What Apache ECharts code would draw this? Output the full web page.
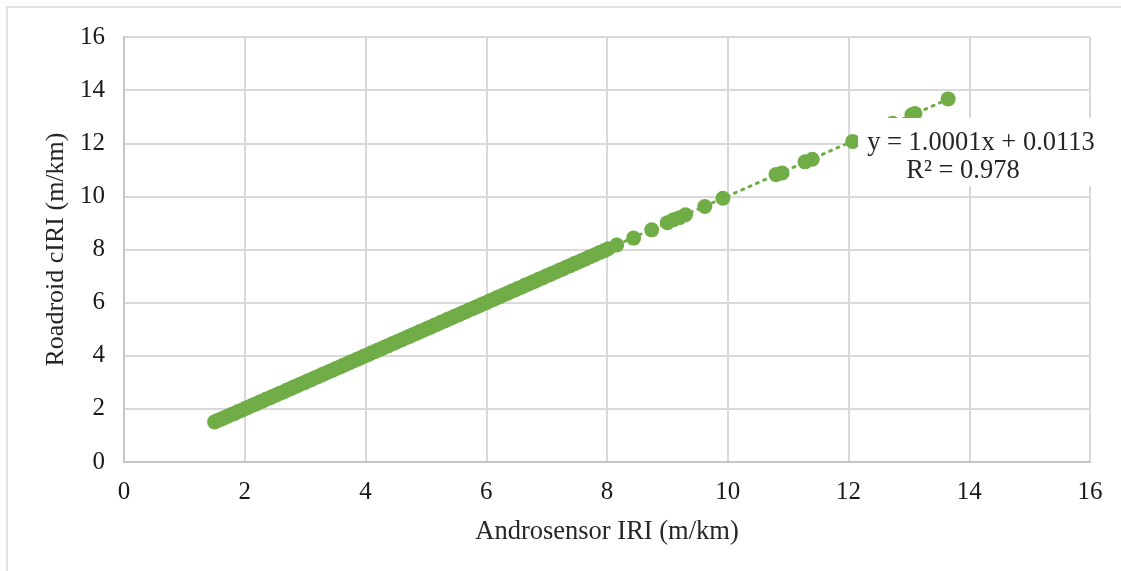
<!DOCTYPE html>
<html>
<head>
<meta charset="utf-8">
<script src="https://cdn.jsdelivr.net/npm/echarts@6/dist/echarts.min.js"></script>
<style>
html,body{margin:0;padding:0;background:#fff;}
#c{width:1121px;height:571px;}
</style>
</head>
<body>
<div id="c"></div>
<script>
// Androsensor IRI (x) values
var xs = [1.50,1.55,1.61,1.66,1.72,1.78,1.83,1.89,1.95,2.01,2.06,2.12,2.18,2.24,2.29,2.35,2.41,2.47,2.52,2.58,
  2.64,2.70,2.76,2.81,2.87,2.93,2.99,3.04,3.10,3.16,3.22,3.28,3.33,3.39,3.45,3.51,3.57,3.62,3.68,3.74,
  3.80,3.86,3.91,3.97,4.03,4.09,4.15,4.20,4.26,4.32,4.38,4.44,4.49,4.55,4.61,4.67,4.73,4.78,4.84,4.90,
  4.96,5.02,5.07,5.13,5.19,5.25,5.31,5.36,5.42,5.48,5.54,5.60,5.65,5.71,5.77,5.83,5.89,5.94,6.00,6.06,
  6.12,6.18,6.23,6.29,6.35,6.41,6.47,6.52,6.58,6.64,6.70,6.76,6.81,6.87,6.93,6.99,7.05,7.10,7.16,7.22,
  7.28,7.34,7.40,7.46,7.52,7.58,7.65,7.72,7.80,7.88,7.95,8.02,8.16,
  8.44,8.74,9.00,9.10,9.20,9.30,9.62,9.92,10.80,10.90,11.28,11.40,12.07,12.73,13.05,13.10,13.65];
// Roadroid cIRI (y) values
var ys = [1.51,1.56,1.61,1.67,1.72,1.79,1.83,1.90,1.95,2.02,2.06,2.13,2.18,2.25,2.29,2.36,2.41,2.48,2.52,2.59,
  2.64,2.71,2.76,2.82,2.87,2.94,2.99,3.05,3.10,3.17,3.22,3.29,3.33,3.40,3.45,3.52,3.57,3.63,3.68,3.75,
  3.80,3.87,3.91,3.98,4.03,4.10,4.15,4.21,4.26,4.33,4.38,4.45,4.49,4.56,4.61,4.68,4.73,4.79,4.84,4.91,
  4.96,5.03,5.07,5.14,5.19,5.26,5.31,5.37,5.42,5.49,5.54,5.61,5.65,5.72,5.77,5.84,5.89,5.95,6.00,6.07,
  6.12,6.19,6.23,6.30,6.35,6.42,6.47,6.53,6.58,6.65,6.70,6.77,6.81,6.88,6.93,7.00,7.05,7.11,7.16,7.23,
  7.28,7.35,7.40,7.47,7.52,7.59,7.65,7.73,7.80,7.89,7.95,8.03,8.17,
  8.43,8.74,9.01,9.12,9.20,9.31,9.62,9.93,10.82,10.88,11.30,11.40,12.07,12.75,13.07,13.12,13.67];
var axisTicks = [0,2,4,6,8,10,12,14,16];
var slope = 1.0001, intercept = 0.0113;
var eqText = 'y = 1.0001x + 0.0113';
var r2Text = 'R\u00B2 = 0.978';
var xTitle = 'Androsensor IRI (m/km)';
var yTitle = 'Roadroid cIRI (m/km)';

var pts = xs.map(function(x,i){return [x, ys[i]];});
var xmin = Math.min.apply(null, xs), xmax = Math.max.apply(null, xs);
var trend = [[xmin, slope*xmin+intercept],[xmax, slope*xmax+intercept]];

var FONT = '"Liberation Serif", "Times New Roman", serif';
var green = '#70ad47';

var chart = echarts.init(document.getElementById('c'));
chart.setOption({
  animation:false,
  backgroundColor:'#fff',
  grid:{left:124, right:31, top:37, bottom:109},
  xAxis:{
    type:'value', min:axisTicks[0], max:axisTicks[axisTicks.length-1], interval:2,
    name:xTitle, nameLocation:'middle', nameGap:57,
    nameTextStyle:{fontFamily:FONT, fontSize:26.5, color:'#262626'},
    axisLine:{show:true, lineStyle:{color:'#c6c6c6', width:2}},
    axisTick:{show:false},
    axisLabel:{fontFamily:FONT, fontSize:25, color:'#1a1a1a', margin:18},
    splitLine:{show:true, lineStyle:{color:'#d9d9d9', width:2}}
  },
  yAxis:{
    type:'value', min:axisTicks[0], max:axisTicks[axisTicks.length-1], interval:2,
    name:yTitle, nameLocation:'middle', nameGap:50,
    nameTextStyle:{fontFamily:FONT, fontSize:26, color:'#262626'},
    axisLine:{show:true, lineStyle:{color:'#c6c6c6', width:2}},
    axisTick:{show:false},
    axisLabel:{fontFamily:FONT, fontSize:25, color:'#1a1a1a', margin:19},
    splitLine:{show:true, lineStyle:{color:'#d9d9d9', width:2}}
  },
  series:[
    {type:'scatter', data:pts, symbolSize:15, itemStyle:{color:green, opacity:1}, z:2},
    {type:'line', data:trend, showSymbol:false, symbol:'none', z:3,
     lineStyle:{color:green, width:3, type:[2,6], cap:'round'}}
  ],
  graphic:[
    {type:'rect', z:0, silent:true, shape:{x:7, y:7, width:1130, height:580},
     style:{fill:'none', stroke:'#d9d9d9', lineWidth:1.5}},
    {type:'rect', z:100, shape:{x:858, y:118, width:244, height:68}, style:{fill:'#fff'}},
    {type:'text', z:101, x:981, y:143,
     style:{text:eqText, font:'26.5px ' + FONT, fill:'#262626', textAlign:'center', textVerticalAlign:'middle'}},
    {type:'text', z:101, x:963, y:171,
     style:{text:r2Text, font:'26.5px ' + FONT, fill:'#262626', textAlign:'center', textVerticalAlign:'middle'}}
  ]
});
</script>
</body>
</html>
